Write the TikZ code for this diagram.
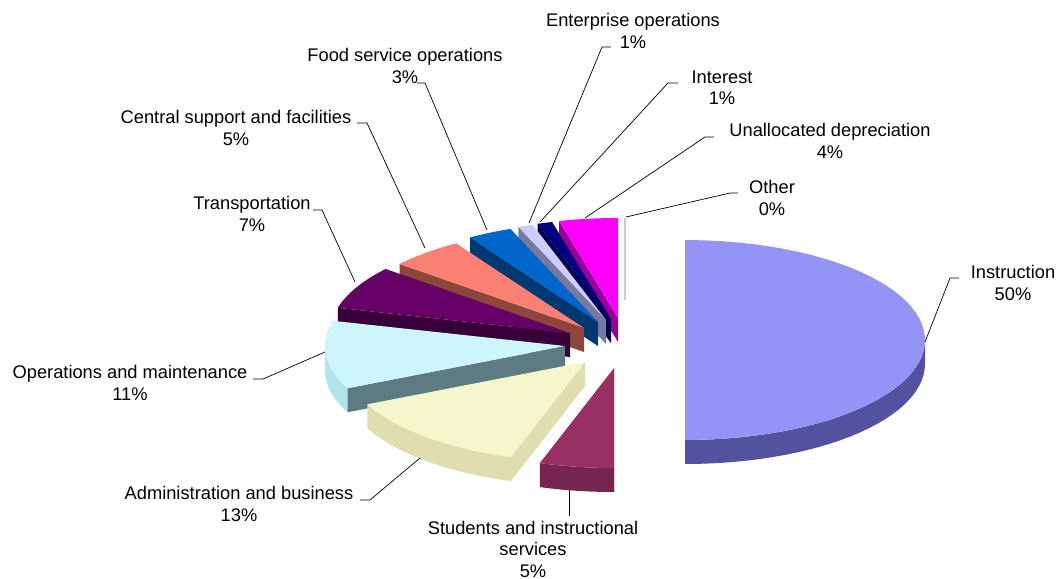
\documentclass[tikz,border=0pt]{standalone}
\usepackage{fontspec}
\setmainfont{Liberation Sans}

\definecolor{instrTop}{RGB}{148,148,246}
\definecolor{instrSide}{RGB}{82,82,158}
\definecolor{studTop}{RGB}{153,48,100}
\definecolor{studFront}{RGB}{118,36,80}
\definecolor{adminTop}{RGB}{246,246,204}
\definecolor{adminSide}{RGB}{222,222,176}
\definecolor{opsTop}{RGB}{204,246,250}
\definecolor{opsSide}{RGB}{92,124,130}
\definecolor{opsFront}{RGB}{176,228,234}
\definecolor{transTop}{RGB}{102,0,102}
\definecolor{transSide}{RGB}{56,0,56}
\definecolor{centTop}{RGB}{250,128,116}
\definecolor{centSide}{RGB}{140,70,60}
\definecolor{foodTop}{RGB}{0,102,204}
\definecolor{foodSide}{RGB}{0,56,112}
\definecolor{entTop}{RGB}{204,204,255}
\definecolor{entSide}{RGB}{120,120,160}
\definecolor{intTop}{RGB}{0,0,128}
\definecolor{intSide}{RGB}{0,0,78}
\definecolor{unalTop}{RGB}{255,0,255}
\definecolor{unalSide}{RGB}{150,0,150}

% apex x, apex y, start angle, end angle, top, side, front
\newcommand\pieslice[7]{%
  \pgfmathsetmacro\fa{max(#3,90)}%
  \pgfmathsetmacro\fb{min(#4,270)}%
  \ifdim #3pt<180pt\else
    \fill[#6] (#1,#2) -- ({#1+240*sin(#3)},{#2-100*cos(#3)}) -- ++(0,24) -- (#1,#2+24) -- cycle;
  \fi
  \ifdim\fa pt<\fb pt
    \fill[#7] plot[domain=\fa:\fb,samples=30] ({#1+240*sin(\x)},{#2-100*cos(\x)})
      -- plot[domain=\fb:\fa,samples=30] ({#1+240*sin(\x)},{#2+24-100*cos(\x)}) -- cycle;
  \fi
  \fill[#5] (#1,#2) -- plot[domain=#3:#4,samples=40] ({#1+240*sin(\x)},{#2-100*cos(\x)}) -- cycle;
}

\tikzset{
  lbl/.style={align=center,inner sep=0pt,font=\fontsize{13}{15.3}\selectfont},
  leader/.style={draw=black,line width=0.5pt}
}

\begin{document}
\begin{tikzpicture}[x=0.025cm,y=-0.025cm]
\useasboundingbox (0,0) rectangle (1060,579);

% slices, back to front
\pieslice{618}{318}{345.8}{360}{unalTop}{unalSide}{unalSide}
\pieslice{611}{319}{342.2}{345.8}{intTop}{intSide}{intSide}
\pieslice{606}{320}{338.6}{342.2}{entTop}{entSide}{entSide}
\pieslice{598}{322}{327.8}{338.6}{foodTop}{foodSide}{foodSide}
\pieslice{584}{328}{309.8}{327.8}{centTop}{centSide}{centSide}
\pieslice{570}{333}{284.6}{309.8}{transTop}{transSide}{transSide}
\pieslice{565}{346}{245}{284.6}{opsTop}{opsSide}{opsFront}
\pieslice{585}{362}{198}{245}{adminTop}{adminSide}{adminSide}
\pieslice{614}{368}{180}{198}{studTop}{studFront}{studFront}
\pieslice{685}{340}{0}{180}{instrTop}{instrSide}{instrSide}
\draw[gray!40,line width=1.5pt] (625,218) -- (625,300);

% labels
\node[lbl] (ent) at (633,31) {Enterprise operations\\1\%};
\node[lbl] (int) at (722,88) {Interest\\1\%};
\node[lbl] (unal) at (830,141) {Unallocated depreciation\\4\%};
\node[lbl] (oth) at (772,198) {Other\\0\%};
\node[lbl] (instr) at (1013,283) {Instruction\\50\%};
\node[lbl] (stud) at (533,549) {Students and instructional\\services\\5\%};
\node[lbl] (admin) at (239,504) {Administration and business\\13\%};
\node[lbl] (ops) at (130,383) {Operations and maintenance\\11\%};
\node[lbl] (trans) at (252,214) {Transportation\\7\%};
\node[lbl] (cent) at (236,128) {Central support and facilities\\5\%};
\node[lbl] (food) at (405,66) {Food service operations\\3\%};

% leader lines
\coordinate (entA) at (611,47);  \coordinate (entB) at (529,223);
\coordinate (intA) at (678,83);  \coordinate (intB) at (540,222);
\coordinate (unalA) at (714,137); \coordinate (unalB) at (585,218);
\coordinate (othA) at (738,193); \coordinate (othB) at (626,217);
\coordinate (instrA) at (959,278); \coordinate (instrB) at (925,342);
\coordinate (studA) at (569,516); \coordinate (studB) at (569,490);
\coordinate (adminA) at (360,500); \coordinate (adminB) at (420,458);
\coordinate (opsA) at (253,379); \coordinate (opsB) at (325,352);
\coordinate (transA) at (313,210); \coordinate (transB) at (355,282);
\coordinate (centA) at (357,123); \coordinate (centB) at (425,248);
\coordinate (foodA) at (417,83); \coordinate (foodB) at (487,230);

\draw[leader] (entA) -- ++(-9,0) -- (entB);
\draw[leader] (intA) -- ++(-10,0) -- (intB);
\draw[leader] (unalA) -- ++(-9,0) -- (unalB);
\draw[leader] (othA) -- ++(-8,0) -- (othB);
\draw[leader] (instrA) -- ++(-9,0) -- (instrB);
\draw[leader] (studA) -- (studB);
\draw[leader] (adminA) -- ++(10,0) -- (adminB);
\draw[leader] (opsA) -- ++(10,0) -- (opsB);
\draw[leader] (transA) -- ++(9,0) -- (transB);
\draw[leader] (centA) -- ++(10,0) -- (centB);
\draw[leader] (foodA) -- ++(8,0) -- (foodB);

\end{tikzpicture}
\end{document}
